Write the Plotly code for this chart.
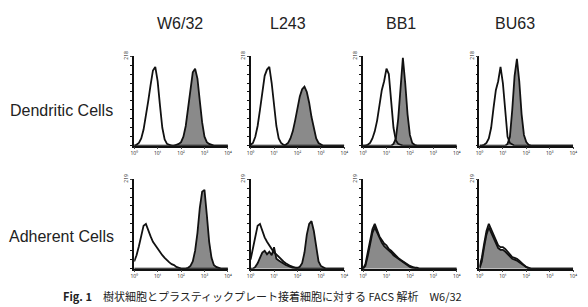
import plotly.graph_objects as go

# fluorescence channel (log10 units), 0..4 in steps of 0.1
LOG_CH = [0.0, 0.1, 0.2, 0.3, 0.4, 0.5, 0.6, 0.7, 0.8, 0.9,
          1.0, 1.1, 1.2, 1.3, 1.4, 1.5, 1.6, 1.7, 1.8, 1.9,
          2.0, 2.1, 2.2, 2.3, 2.4, 2.5, 2.6, 2.7, 2.8, 2.9,
          3.0, 3.1, 3.2, 3.3, 3.4, 3.5, 3.6, 3.7, 3.8, 3.9, 4.0]

ANTIBODIES = ["W6/32", "L243", "BB1", "BU63"]
CELL_TYPES = ["Dendritic Cells", "Adherent Cells"]
X_TICK_TEXT = ["10⁰", "10¹", "10²", "10³", "10⁴"]
Y_MAX_LABEL = ["218", "218", "218", "218", "219", "219", "219", "219"]

# counts as % of axis maximum; control (open) and stained (filled)
DC_W632_CTRL = [0, 1, 3, 8, 18, 32, 50, 68, 84, 88, 72, 45, 20, 7, 2, 1, 0, 0, 0, 0, 0,
                0, 0, 0, 0, 0, 0, 0, 0, 0, 0, 0, 0, 0, 0, 0, 0, 0, 0, 0, 0]
DC_W632_STAIN = [0, 0, 0, 0, 0, 0, 0, 0, 0, 0, 0, 0, 0, 0, 0, 0, 0, 0, 1, 2, 4,
                 10, 22, 42, 65, 82, 86, 75, 50, 26, 10, 4, 2, 1, 0, 0, 0, 0, 0, 0, 0]
DC_L243_CTRL = [1, 3, 10, 22, 40, 60, 78, 85, 88, 70, 45, 22, 8, 3, 1, 0, 0, 0, 0, 0, 0,
                0, 0, 0, 0, 0, 0, 0, 0, 0, 0, 0, 0, 0, 0, 0, 0, 0, 0, 0, 0]
DC_L243_STAIN = [0, 0, 0, 0, 0, 0, 0, 0, 0, 0, 0, 0, 0, 0, 0, 1, 3, 8, 16, 28, 42,
                 55, 63, 66, 60, 48, 32, 18, 8, 3, 1, 0, 0, 0, 0, 0, 0, 0, 0, 0, 0]
DC_BB1_CTRL = [0, 0, 1, 3, 8, 16, 28, 45, 62, 72, 86, 80, 50, 20, 6, 2, 1, 0, 0, 0, 0,
               0, 0, 0, 0, 0, 0, 0, 0, 0, 0, 0, 0, 0, 0, 0, 0, 0, 0, 0, 0]
DC_BB1_STAIN = [0, 0, 0, 0, 0, 0, 0, 0, 0, 0, 0, 0, 0, 2, 8, 30, 65, 98, 70, 35, 12,
                3, 1, 0, 0, 0, 0, 0, 0, 0, 0, 0, 0, 0, 0, 0, 0, 0, 0, 0, 0]
DC_BU63_CTRL = [0, 0, 1, 3, 8, 20, 42, 62, 72, 88, 70, 35, 10, 3, 1, 0, 0, 0, 0, 0, 0,
                0, 0, 0, 0, 0, 0, 0, 0, 0, 0, 0, 0, 0, 0, 0, 0, 0, 0, 0, 0]
DC_BU63_STAIN = [0, 0, 0, 0, 0, 0, 0, 0, 0, 0, 0, 0, 2, 10, 40, 78, 97, 72, 35, 12, 4,
                 1, 0, 0, 0, 0, 0, 0, 0, 0, 0, 0, 0, 0, 0, 0, 0, 0, 0, 0, 0]

AD_W632_CTRL = [8, 15, 25, 38, 48, 50, 42, 36, 30, 26, 22, 18, 15, 12, 9, 7, 5, 4, 2, 1, 0,
                0, 0, 0, 0, 0, 0, 0, 0, 0, 0, 0, 0, 0, 0, 0, 0, 0, 0, 0, 0]
AD_W632_STAIN = [0, 0, 0, 0, 0, 0, 0, 0, 0, 0, 0, 0, 0, 0, 0, 0, 0, 0, 0, 0, 0,
                 0, 0, 1, 3, 8, 20, 40, 68, 86, 88, 60, 30, 12, 4, 2, 1, 0, 0, 0, 0]
AD_L243_CTRL = [10, 22, 38, 48, 50, 42, 35, 30, 26, 22, 18, 16, 13, 10, 8, 6, 4, 3, 2, 1, 0,
                0, 0, 0, 0, 0, 0, 0, 0, 0, 0, 0, 0, 0, 0, 0, 0, 0, 0, 0, 0]
AD_L243_STAIN = [0, 0, 2, 6, 12, 18, 20, 16, 19, 15, 24, 11, 9, 7, 6, 4, 3, 2, 1, 1, 1,
                 2, 6, 18, 38, 50, 53, 42, 22, 8, 3, 1, 0, 0, 0, 0, 0, 0, 0, 0, 0]
AD_BB1_CTRL = [0, 5, 18, 32, 44, 50, 42, 36, 32, 28, 26, 22, 20, 17, 15, 12, 10, 8, 6, 4, 3,
               2, 1, 1, 0, 0, 0, 0, 0, 0, 0, 0, 0, 0, 0, 0, 0, 0, 0, 0, 0]
AD_BB1_STAIN = [0, 3, 14, 28, 40, 46, 40, 33, 29, 25, 23, 20, 18, 15, 13, 11, 9, 7, 5, 3, 2,
                1, 1, 0, 0, 0, 0, 0, 0, 0, 0, 0, 0, 0, 0, 0, 0, 0, 0, 0, 0]
AD_BU63_CTRL = [2, 12, 28, 42, 50, 44, 36, 30, 26, 24, 24, 22, 19, 16, 13, 12, 11, 9, 6, 4, 2,
                1, 0, 0, 0, 0, 0, 0, 0, 0, 0, 0, 0, 0, 0, 0, 0, 0, 0, 0, 0]
AD_BU63_STAIN = [0, 8, 24, 38, 46, 40, 33, 27, 23, 21, 21, 19, 16, 14, 11, 10, 9, 7, 5, 3, 1,
                 0, 0, 0, 0, 0, 0, 0, 0, 0, 0, 0, 0, 0, 0, 0, 0, 0, 0, 0, 0]

PANELS = [
    (DC_W632_CTRL, DC_W632_STAIN), (DC_L243_CTRL, DC_L243_STAIN),
    (DC_BB1_CTRL, DC_BB1_STAIN), (DC_BU63_CTRL, DC_BU63_STAIN),
    (AD_W632_CTRL, AD_W632_STAIN), (AD_L243_CTRL, AD_L243_STAIN),
    (AD_BB1_CTRL, AD_BB1_STAIN), (AD_BU63_CTRL, AD_BU63_STAIN),
]

W, H = 588, 307
COL_LEFT = [132, 250, 364, 482]
PANEL_W = 95
ROW_TOP = [52, 177]
PANEL_H = 91

FILL = "#8a8a8a"
INK = "#111111"

x_vals = [10 ** v for v in LOG_CH]

fig = go.Figure()
layout = dict(width=W, height=H, margin=dict(l=0, r=0, t=0, b=0),
              paper_bgcolor="white", plot_bgcolor="white", showlegend=False)

for i, (ctrl, stain) in enumerate(PANELS):
    r, c = divmod(i, 4)
    n = i + 1
    xa = "x" if n == 1 else f"x{n}"
    ya = "y" if n == 1 else f"y{n}"
    fig.add_trace(go.Scatter(x=x_vals, y=stain, xaxis=xa, yaxis=ya, mode="lines",
                             fill="tozeroy", fillcolor=FILL,
                             line=dict(color=INK, width=1.8)))
    fig.add_trace(go.Scatter(x=x_vals, y=ctrl, xaxis=xa, yaxis=ya, mode="lines",
                             line=dict(color=INK, width=1.8)))
    x0 = COL_LEFT[c] / W
    x1 = (COL_LEFT[c] + PANEL_W) / W
    y1 = 1 - ROW_TOP[r] / H
    y0 = 1 - (ROW_TOP[r] + PANEL_H) / H
    key = "" if n == 1 else str(n)
    layout[f"xaxis{key}"] = dict(
        domain=[x0, x1], anchor=ya, type="log", range=[0, 4],
        tickvals=[1, 10, 100, 1000, 10000], ticktext=X_TICK_TEXT,
        tickfont=dict(size=5, color="#222"), ticks="outside", ticklen=2,
        showline=True, linecolor=INK, linewidth=1.5, showgrid=False, zeroline=False)
    layout[f"yaxis{key}"] = dict(
        domain=[y0, y1], anchor=xa, range=[0, 100],
        tickvals=[100], ticktext=[Y_MAX_LABEL[i]], tickangle=-90,
        tickfont=dict(size=5, color="#222"), ticks="outside", ticklen=2,
        minor=dict(ticks="outside", dtick=10, ticklen=2, tickcolor=INK),
        showline=True, linecolor=INK, linewidth=1.5, showgrid=False, zeroline=False)

fig.update_layout(**layout)

TITLE_X = [178, 288, 402, 518]
for name, px in zip(ANTIBODIES, TITLE_X):
    fig.add_annotation(text=name, x=px / W, y=1 - 19 / H, xref="paper", yref="paper",
                       showarrow=False, xanchor="center", yanchor="middle",
                       font=dict(family="Liberation Sans, Arial", size=16, color="#222"))

ROW_Y = [107, 235]
for name, py in zip(CELL_TYPES, ROW_Y):
    fig.add_annotation(text=name, x=58 / W, y=1 - py / H, xref="paper", yref="paper",
                       showarrow=False, xanchor="center", yanchor="middle",
                       font=dict(family="Liberation Sans, Arial", size=16, color="#222"))

fig.add_annotation(
    text="<b>Fig. 1</b>　樹状細胞とプラスティックプレート接着細胞に対する FACS 解析　W6/32",
    x=58 / W, y=1 - 306 / H, xref="paper", yref="paper", showarrow=False,
    xanchor="left", yanchor="bottom",
    font=dict(family="Noto Sans CJK JP", size=11, color="#222"))

fig.write_html("out.html")
